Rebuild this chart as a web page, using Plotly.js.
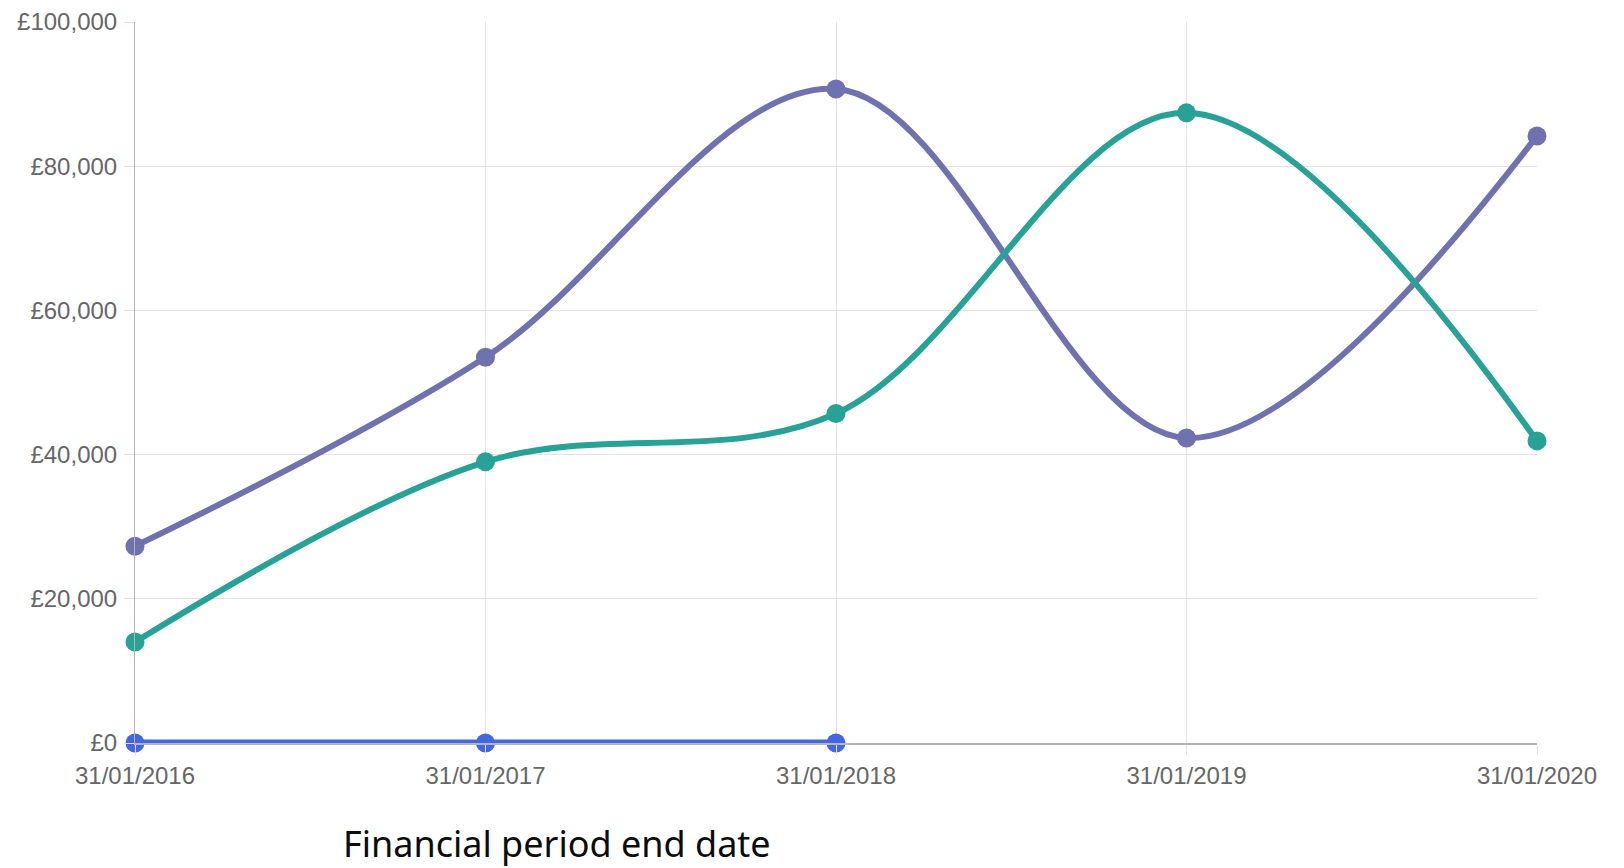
<!DOCTYPE html>
<html>
<head>
<meta charset="utf-8">
<script src="https://cdn.plot.ly/plotly-3.0.1.min.js"></script>
<style>
html,body{margin:0;padding:0;background:#fff;}
#chart{width:1624px;height:868px;}
</style>
</head>
<body>
<div id="chart"></div>
<script>
const periods = ['31/01/2016', '31/01/2017', '31/01/2018', '31/01/2019', '31/01/2020'];
const seriesPurple = [27300, 53500, 90700, 42300, 84200];
const seriesGreen = [14000, 39000, 45700, 87400, 41900];
const seriesBlue = [0, 0, 0];
const yTicks = [0, 20000, 40000, 60000, 80000, 100000];
const yTickLabels = ['£0', '£20,000', '£40,000', '£60,000', '£80,000', '£100,000'];
const xTitle = 'Financial period end date';

function lineTrace(y, color, width) {
  return {
    x: periods.slice(0, y.length),
    y: y,
    type: 'scatter',
    mode: 'lines+markers',
    line: {color: color, width: width, shape: 'spline', smoothing: 1},
    marker: {color: color, size: 19},
    cliponaxis: false,
    hoverinfo: 'x+y'
  };
}

const data = [
  lineTrace(seriesPurple, '#6f72af', 6),
  lineTrace(seriesGreen, '#28a197', 6),
  lineTrace(seriesBlue, '#4267e0', 7)
];

const tickFont = {family: 'Liberation Sans, Arial, sans-serif', size: 24, color: '#666666'};

const layout = {
  width: 1624,
  height: 868,
  margin: {l: 135, r: 87, t: 22, b: 125},
  paper_bgcolor: '#ffffff',
  plot_bgcolor: '#ffffff',
  showlegend: false,
  xaxis: {
    type: 'category',
    range: [0, periods.length - 1],
    tickvals: periods,
    ticktext: periods,
    showgrid: true,
    gridcolor: '#e3e3e3',
    gridwidth: 1,
    showline: true,
    linecolor: '#b5b5b5',
    linewidth: 2,
    ticks: 'outside',
    ticklen: 10,
    tickcolor: '#e3e3e3',
    tickfont: tickFont,
    zeroline: false,
    fixedrange: true
  },
  yaxis: {
    range: [0, 100000],
    tickvals: yTicks,
    ticktext: yTickLabels,
    showgrid: true,
    gridcolor: '#e3e3e3',
    gridwidth: 1,
    showline: true,
    linecolor: '#b5b5b5',
    linewidth: 1,
    ticks: 'outside',
    ticklen: 10,
    tickcolor: '#e3e3e3',
    tickfont: tickFont,
    ticklabelstandoff: 2,
    zeroline: false,
    fixedrange: true
  },
  annotations: [{
    text: xTitle,
    xref: 'paper', yref: 'paper',
    x: (341 - 135) / (1624 - 135 - 87),
    y: -(843 - 743) / (868 - 22 - 125),
    xanchor: 'left', yanchor: 'middle',
    showarrow: false,
    font: {family: 'Noto Sans, sans-serif', size: 36, color: '#0b0c0c'}
  }]
};

Plotly.newPlot('chart', data, layout, {displayModeBar: false, staticPlot: false});
</script>
</body>
</html>
